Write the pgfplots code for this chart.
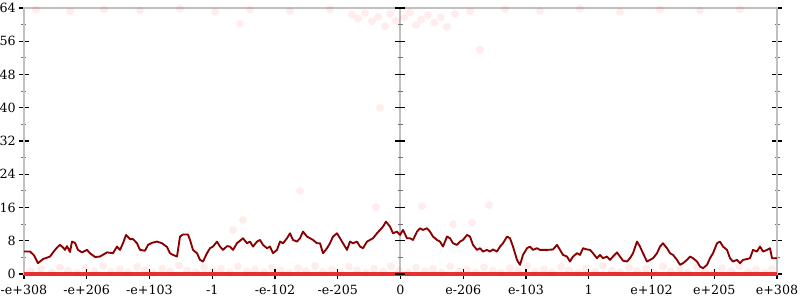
\documentclass[border=0pt]{standalone}
\usepackage{fontspec}
\setmainfont{DejaVu Serif}
\usepackage{pgfplots}
\usepackage{pgfplotstable}
\pgfplotsset{compat=1.18}
\definecolor{linered}{RGB}{139,0,0}
\definecolor{zerored}{RGB}{228,50,50}
\definecolor{axgray}{RGB}{192,192,192}
\pgfplotstableread{
px v
24 5.4
30 5.4
34 4.5
38 2.6
43 3.6
50 4.2
55 5.8
58 6.6
60 7.0
63 6.4
65 5.8
67 6.7
70 5.3
72 7.8
75 7.5
78 5.8
82 5.2
87 5.8
90 5.0
95 4.1
100 4.2
107 5.2
113 5.0
117 6.6
120 5.8
123 7.4
126 9.4
130 8.4
133 8.4
137 7.4
140 5.8
145 5.6
148 7.0
152 7.5
157 7.8
162 7.4
167 6.5
170 5.0
173 4.6
177 4.2
180 9.0
183 9.5
188 9.5
190 8.2
193 5.8
197 5.0
200 3.4
203 3.0
207 5.0
210 6.2
213 6.6
217 7.8
220 6.6
223 5.8
227 6.7
230 6.6
233 5.8
237 7.4
243 8.6
247 7.4
250 7.8
253 6.6
257 7.8
260 8.2
263 7.0
267 6.2
270 6.6
273 5.0
277 5.8
280 7.8
283 7.4
287 8.6
290 9.8
293 8.2
297 7.8
300 8.6
303 10.2
307 9.0
310 8.6
313 8.2
317 7.4
320 7.4
323 5.0
327 6.2
330 7.4
333 9.0
337 9.8
340 8.6
343 7.4
347 5.8
350 7.8
353 7.4
357 7.8
360 6.6
363 6.2
367 7.8
370 8.2
373 8.6
377 9.8
380 10.6
383 11.4
386 12.6
390 11.4
393 9.8
397 10.2
400 9.4
403 10.6
407 8.6
410 8.6
413 8.2
417 10.2
420 11.0
423 10.6
427 11.0
430 10.2
433 9.0
437 8.2
440 7.8
443 6.6
447 9.0
450 8.6
453 7.4
457 7.0
460 7.8
463 8.2
467 9.4
470 9.0
473 7.0
477 5.8
480 6.2
483 5.4
487 5.8
490 5.4
493 5.9
497 5.4
500 6.6
503 7.4
507 9.0
510 8.6
513 6.6
517 3.4
520 2.2
523 4.6
527 6.2
530 6.6
533 5.8
537 6.2
540 5.8
547 5.8
553 5.9
557 7.0
560 5.8
563 4.6
567 4.2
570 3.0
573 4.2
577 5.0
580 4.6
583 6.2
587 5.9
590 5.8
593 5.0
597 3.8
600 4.6
603 3.8
607 4.2
610 3.4
613 4.2
617 5.2
620 4.2
623 3.2
627 3.0
630 3.8
633 5.0
637 7.8
640 6.6
643 5.0
647 3.0
650 3.4
653 3.8
657 5.0
660 6.6
663 7.4
667 6.2
670 5.0
673 4.6
677 3.4
680 2.2
683 2.6
687 3.4
690 4.2
693 3.8
697 3.0
700 1.8
703 1.4
707 2.2
710 3.8
713 5.0
717 7.4
720 7.8
723 6.6
727 5.8
730 3.8
733 3.0
737 3.4
740 2.6
743 3.4
747 3.6
750 3.8
753 5.8
757 5.4
760 6.6
763 5.4
767 5.8
770 6.2
772 3.8
777 3.8
}\series
\pgfplotstableread{
px v
30 0.6
41 1.2
52 0.4
60 1.6
68 0.8
77 0.3
85 1.4
94 0.7
103 1.9
111 0.5
120 1.1
128 0.4
137 1.7
145 0.9
153 0.3
162 1.3
170 0.6
179 2.0
187 0.8
196 0.4
204 1.5
213 0.7
221 1.2
230 0.3
238 1.8
247 0.6
255 1.0
264 0.4
272 1.6
281 0.8
289 0.3
298 1.4
306 0.7
315 1.9
323 0.5
332 1.1
340 0.4
349 1.7
357 0.9
366 0.3
374 1.3
383 0.6
391 1.8
399 0.8
408 0.4
416 1.5
425 0.7
433 1.2
442 0.3
450 1.8
459 0.6
467 1.0
476 0.4
484 1.6
493 0.8
501 0.3
510 1.4
518 0.7
527 1.9
535 0.5
544 1.1
552 0.4
561 1.7
569 0.9
578 0.3
586 1.3
595 0.6
603 2.0
612 0.8
620 0.4
629 1.5
637 0.7
646 1.2
654 0.3
663 1.8
671 0.6
680 1.0
688 0.4
697 1.6
705 0.8
714 0.3
722 1.4
731 0.7
739 1.9
748 0.5
756 1.1
765 0.4
772 1.2
36 63.6
70 63.2
104 63.7
140 63.4
180 63.8
215 63.1
250 63.6
290 63.3
330 63.7
352 62.4
358 61.5
365 62.8
372 60.8
378 61.9
385 59.6
390 62.6
396 60.9
404 61.7
410 62.9
416 59.9
421 61.2
428 62.3
434 60.5
441 61.8
447 59.5
455 62.6
470 63.2
505 63.7
540 63.3
580 63.8
620 63.1
660 63.6
700 63.4
740 63.7
243 13.0
233 10.6
376 16.0
422 16.3
489 16.6
453 12.0
472 12.3
300 20.0
240 60.2
480 54.0
380 40.0
}\scatterpts
\begin{document}
\begin{tikzpicture}
\useasboundingbox (-18pt,-19.5pt) rectangle (582pt,205.5pt);
\begin{axis}[
  at={(0,0)}, anchor=south west, scale only axis,
  width=564.75pt, height=199.5pt,
  ymin=0, ymax=64, xmin=24, xmax=777,
  ytick={0,8,...,64}, minor y tick num=1,
  yticklabels={0,8,16,24,32,40,48,56,64},
  xtick={24,86.75,149.5,212.25,275,337.75,400.5,463.25,526,588.75,651.5,714.25,777},
  xticklabels={-e+308,-e+206,-e+103,-1,-e-102,-e-205,0,e-206,e-103,1,e+102,e+205,e+308},
  xtick pos=lower, ytick pos=both, yticklabel pos=left,
  tick align=center,
  major tick length=7.5pt, minor tick length=3.75pt,
  major tick style={black, line width=0.8pt},
  minor tick style={black!55, line width=0.6pt},
  axis line style={axgray, line width=1.5pt},
  ticklabel style={font=\fontsize{9.5}{11}\selectfont},
  xticklabel style={yshift=-1pt},
  yticklabel style={xshift=1pt},
  clip=false,
]
\addplot[axgray, line width=1.5pt, forget plot] coordinates {(400,0) (400,64)};
\addplot[only marks, mark=-, mark size=3.75pt, black, mark options={line width=0.8pt}] coordinates {(400,8) (400,16) (400,24) (400,32) (400,40) (400,48) (400,56) (400,64) (400,0)};
\addplot[only marks, mark=-, mark size=1.875pt, black!55, mark options={line width=0.6pt}] coordinates {(400,4) (400,12) (400,20) (400,28) (400,36) (400,44) (400,52) (400,60)};
\addplot[only marks, mark=*, mark size=3pt, draw opacity=0, fill=red, fill opacity=0.07] table[x=px,y=v]{\scatterpts};
\addplot[zerored, line width=2.5pt] coordinates {(24,0) (777,0)};
\addplot[linered, line width=1.4pt, line join=round] table[x=px,y=v]{\series};
\end{axis}
\end{tikzpicture}
\end{document}
